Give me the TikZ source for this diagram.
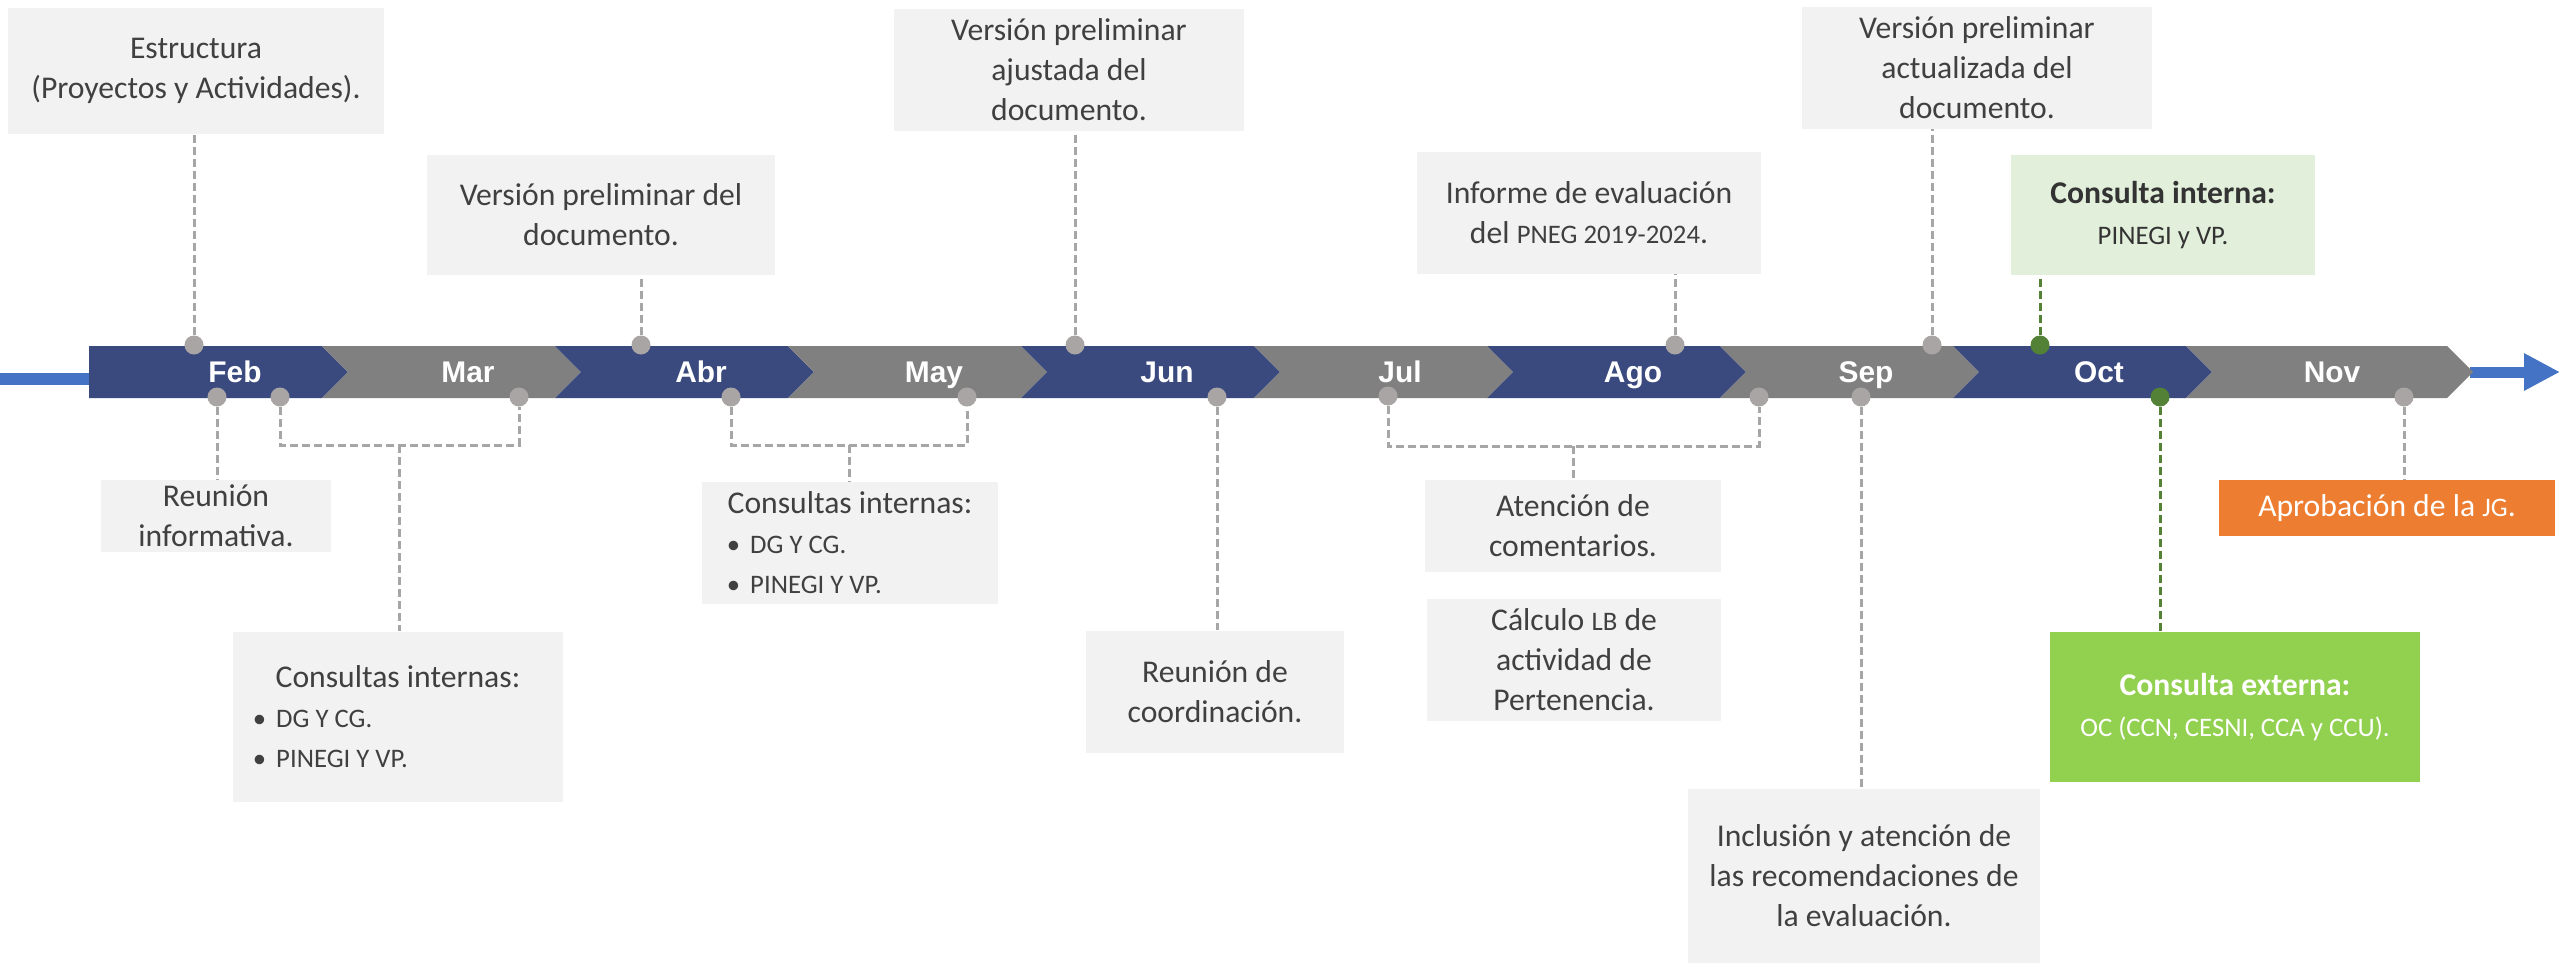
\documentclass[tikz,border=0pt]{standalone}
\usepackage{fontspec}
\setmainfont{Carlito}
\newfontfamily\mesfont{Liberation Sans}
\usepackage{xcolor}
\usepackage{tikz}
\usetikzlibrary{
  arrows.meta,
  positioning
}
\definecolor{barazul}{HTML}{3A4A7E}
\definecolor{bargris}{HTML}{808080}
\definecolor{lineazul}{HTML}{4472C4}
\definecolor{notagris}{HTML}{F2F2F2}
\definecolor{texto}{HTML}{404040}
\definecolor{puntogris}{HTML}{A9A5A5}
\definecolor{guiagris}{HTML}{A6A6A6}
\definecolor{verdeosc}{HTML}{538135}
\definecolor{verdeclaro}{HTML}{E2EFDA}
\definecolor{verdebox}{HTML}{92D050}
\definecolor{naranja}{HTML}{ED7D31}
\newcommand{\sigla}[1]{{\fontsize{7.6}{9}\selectfont #1}}
\newcommand{\vineta}[2]{\makebox[#1][l]{\sigla{\textbullet}\hspace{0.1cm}\sigla{#2}}}

\begin{document}
\begin{tikzpicture}[
  x=0.01cm, y=-0.01cm,
  nota/.style={fill=notagris, text=texto, font=\fontsize{9}{11.4}\selectfont, align=center, inner sep=0pt},
  mes/.style={text=white, font=\mesfont\bfseries\fontsize{8.5}{10}\selectfont, text height=1.7ex, text depth=0.5ex},
  punto/.style={circle, fill=puntogris, inner sep=0pt, minimum size=0.19cm},
  guia/.style={draw=guiagris, line width=0.03cm, dash pattern=on 0.08cm off 0.04cm},
  guiaverde/.style={guia, draw=verdeosc},
  flecha/.style={draw=lineazul, line width=0.11cm, -{Triangle[length=0.36cm, width=0.35cm]}},
]
  \useasboundingbox (0,0) rectangle (2560,966);

  % Timeline bar
  \coordinate (ini) at (0,379);
  \coordinate (iniBar) at (89,379);
  \coordinate (finBar) at (2470,372);
  \coordinate (fin) at (2560,372);
  \draw[lineazul, line width=0.12cm] (ini) -- (iniBar);
  \draw[flecha] (finBar) -- (fin);
  \fill[barazul] (89,346) rectangle (116,398);
  \foreach \mes/\col/\ancho [count=\i from 0] in {Feb/barazul/233, Mar/bargris/233, Abr/barazul/233,
      May/bargris/233, Jun/barazul/233, Jul/bargris/233, Ago/barazul/233, Sep/bargris/233,
      Oct/barazul/233, Nov/bargris/261} {
    \pgfmathsetmacro\xo{89+233*\i}
    \fill[\col] (\xo,346) -- ++(\ancho,0) -- ++(26,26) -- ++(-26,26) -- ++(-\ancho,0) -- ++(26,-26) -- cycle;
    \node[mes] (mes-\i) at (\xo+146,372) {\mes};
  }

  % Notes above
  \node[nota, minimum width=3.76cm, minimum height=1.26cm] (estructura) at (196,71)
    {Estructura\\(Proyectos y Actividades).};
  \node[nota, minimum width=3.48cm, minimum height=1.20cm] (prelim) at (601,215)
    {Versión preliminar del\\documento.};
  \node[nota, minimum width=3.49cm, minimum height=1.21cm] (ajustada) at (1069,70)
    {Versión preliminar\\ajustada del\\documento.};
  \node[nota, minimum width=3.44cm, minimum height=1.21cm] (informe) at (1589,213)
    {Informe de evaluación\\del \sigla{PNEG 2019-2024}.};
  \node[nota, minimum width=3.49cm, minimum height=1.21cm] (actualizada) at (1977,68)
    {Versión preliminar\\actualizada del\\documento.};
  \node[nota, fill=verdeclaro, text=black!80, minimum width=3.04cm, minimum height=1.19cm] (cinterna) at (2163,215)
    {\textbf{Consulta interna:}\\\sigla{PINEGI y VP.}};

  % Notes below
  \node[nota, minimum width=2.29cm, minimum height=0.71cm] (reunion) at (216,516)
    {Reunión\\informativa.};
  \node[nota, minimum width=3.30cm, minimum height=1.70cm] (consultas1) at (398,717)
    {Consultas internas:\\\vineta{2.90cm}{DG Y CG.}\\\vineta{2.90cm}{PINEGI Y VP.}};
  \node[nota, minimum width=2.96cm, minimum height=1.21cm] (consultas2) at (850,543)
    {Consultas internas:\\\vineta{2.46cm}{DG Y CG.}\\\vineta{2.46cm}{PINEGI Y VP.}};
  \node[nota, minimum width=2.57cm, minimum height=1.22cm] (coordinacion) at (1215,692)
    {Reunión de\\coordinación.};
  \node[nota, minimum width=2.96cm, minimum height=0.91cm] (atencion) at (1573,526)
    {Atención de\\comentarios.};
  \node[nota, minimum width=2.93cm, minimum height=1.21cm] (calculo) at (1574,660)
    {Cálculo \sigla{LB} de\\actividad de\\Pertenencia.};
  \node[nota, minimum width=3.51cm, minimum height=1.73cm] (inclusion) at (1864,876)
    {Inclusión y atención de\\las recomendaciones de\\la evaluación.};
  \node[nota, fill=verdebox, text=white, minimum width=3.69cm, minimum height=1.49cm] (cexterna) at (2235,707)
    {\textbf{Consulta externa:}\\\sigla{OC (CCN, CESNI, CCA y CCU).}};
  \node[nota, fill=naranja, text=white, minimum width=3.36cm, minimum height=0.55cm] (aprobacion) at (2387,508)
    {Aprobación de la \sigla{JG}.};

  % Dots on the bar
  \node[punto] (e1) at (194,345) {};
  \node[punto] (e2) at (641,345) {};
  \node[punto] (e3) at (1075,345) {};
  \node[punto] (e4) at (1675,345) {};
  \node[punto] (e5) at (1932,345) {};
  \node[punto, fill=verdeosc] (g1) at (2040,345) {};
  \node[punto] (b1) at (217,397) {};
  \node[punto] (b2) at (280,397) {};
  \node[punto] (b3) at (519,397) {};
  \node[punto] (b4) at (731,397) {};
  \node[punto] (b5) at (967,397) {};
  \node[punto] (b6) at (1217,397) {};
  \node[punto] (b7) at (1388,396) {};
  \node[punto] (b8) at (1759,397) {};
  \node[punto] (b9) at (1861,397) {};
  \node[punto, fill=verdeosc] (g2) at (2160,397) {};
  \node[punto] (b10) at (2404,397) {};

  % Guides
  \draw[guia] (e1.north) -- (e1.north |- estructura.south);
  \draw[guia] (e2.north) -- (e2.north |- prelim.south);
  \draw[guia] (e3.north) -- (e3.north |- ajustada.south);
  \draw[guia] (e4.north) -- (e4.north |- informe.south);
  \draw[guia] (e5.north) -- (e5.north |- actualizada.south);
  \draw[guiaverde] (g1.north) -- (g1.north |- cinterna.south);
  \draw[guia] (b1.south) -- (b1.south |- reunion.north);
  \coordinate (k1) at (399,445);
  \draw[guia] (b2.south) |- (k1) -| (b3.south);
  \draw[guia] (k1) -- (k1 |- consultas1.north);
  \coordinate (k2) at (849,445);
  \draw[guia] (b4.south) |- (k2) -| (b5.south);
  \draw[guia] (k2) -- (k2 |- consultas2.north);
  \draw[guia] (b6.south) -- (b6.south |- coordinacion.north);
  \coordinate (k3) at (1573,446);
  \draw[guia] (b7.south) |- (k3) -| (b8.south);
  \draw[guia] (k3) -- (k3 |- atencion.north);
  \draw[guia] (b9.south) -- (b9.south |- inclusion.north);
  \draw[guiaverde] (g2.south) -- (g2.south |- cexterna.north);
  \draw[guia] (b10.south) -- (b10.south |- aprobacion.north);
\end{tikzpicture}
\end{document}
